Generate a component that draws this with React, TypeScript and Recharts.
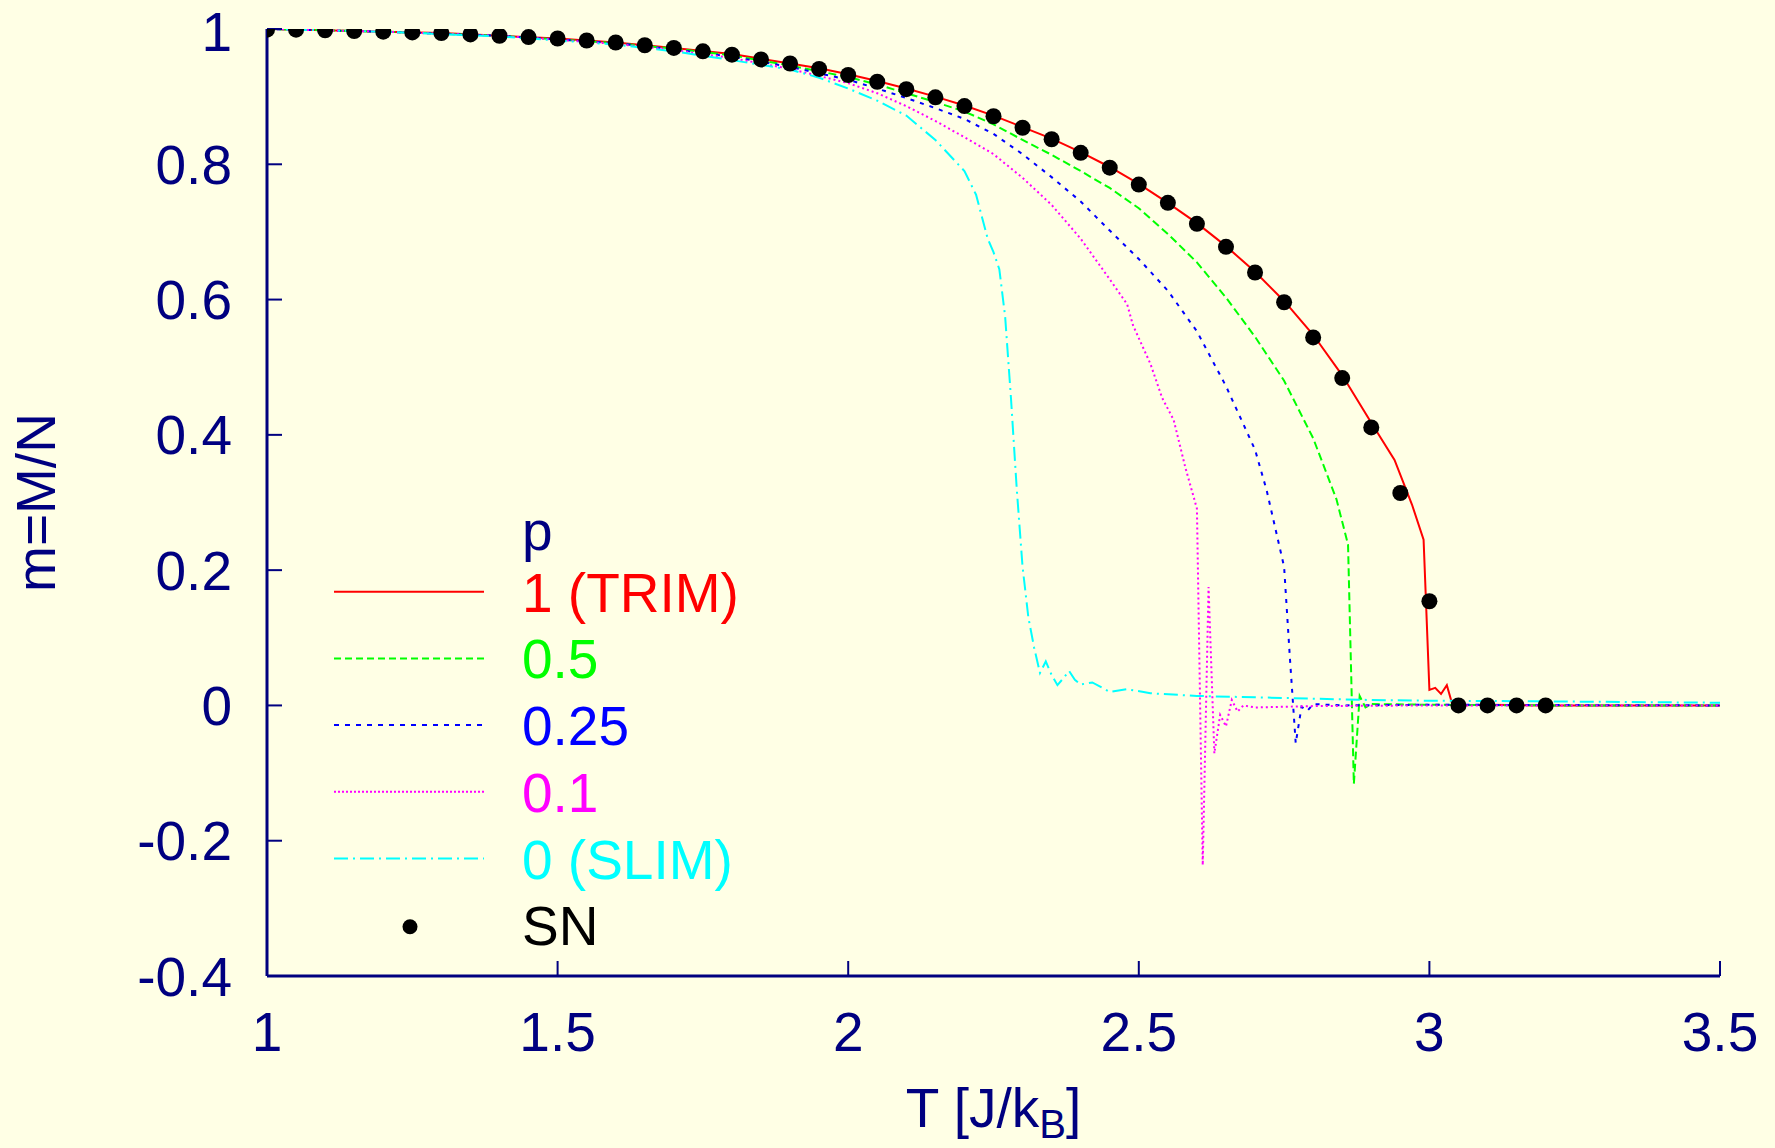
import React from "react";
import { ComposedChart, Legend, Line, Scatter, XAxis, YAxis } from "recharts";

const BG = "#ffffe5";
const NAVY = "#000080";
const FONT = "'Liberation Sans', Arial, Helvetica, sans-serif";

const X_TICKS = [1, 1.5, 2, 2.5, 3, 3.5];
const Y_TICKS = [-0.4, -0.2, 0, 0.2, 0.4, 0.6, 0.8, 1];

// [T, m]
const P_1_TRIM: [number, number][] = [
  [1.0, 1.0], [1.1, 0.998], [1.2, 0.996], [1.3, 0.994], [1.4, 0.99], [1.5, 0.986],
  [1.6, 0.98], [1.7, 0.972], [1.8, 0.963], [1.85, 0.956], [1.9, 0.949], [1.95, 0.942],
  [2.0, 0.933], [2.05, 0.923], [2.1, 0.912], [2.15, 0.9], [2.2, 0.887], [2.25, 0.872],
  [2.3, 0.855], [2.35, 0.838], [2.4, 0.818], [2.45, 0.796], [2.5, 0.771], [2.55, 0.743],
  [2.6, 0.713], [2.65, 0.679], [2.7, 0.641], [2.75, 0.598], [2.8, 0.548], [2.85, 0.488],
  [2.9, 0.418], [2.94, 0.363], [2.97, 0.297], [2.99, 0.245], [3.0, 0.023], [3.01, 0.026],
  [3.02, 0.017], [3.03, 0.03], [3.04, 0.0], [3.1, 0.001], [3.2, 0.0], [3.3, 0.0], [3.5, 0.0],
];

const P_05: [number, number][] = [
  [1.0, 1.0], [1.2, 0.996], [1.4, 0.99], [1.6, 0.979], [1.7, 0.971], [1.8, 0.961],
  [1.9, 0.946], [2.0, 0.929], [2.05, 0.918], [2.1, 0.905], [2.15, 0.892], [2.2, 0.878],
  [2.25, 0.859], [2.3, 0.836], [2.35, 0.814], [2.4, 0.79], [2.45, 0.765], [2.5, 0.735],
  [2.55, 0.697], [2.6, 0.655], [2.65, 0.603], [2.7, 0.545], [2.75, 0.48], [2.8, 0.395],
  [2.84, 0.305], [2.86, 0.238], [2.87, -0.116], [2.88, 0.014], [2.89, -0.003], [2.9, 0.002],
  [3.0, 0.001], [3.2, 0.0], [3.5, 0.0],
];

const P_025: [number, number][] = [
  [1.0, 1.0], [1.2, 0.996], [1.4, 0.99], [1.6, 0.979], [1.7, 0.97], [1.8, 0.959],
  [1.9, 0.944], [2.0, 0.925], [2.05, 0.912], [2.1, 0.898], [2.15, 0.883], [2.2, 0.867],
  [2.25, 0.845], [2.3, 0.815], [2.35, 0.781], [2.4, 0.745], [2.45, 0.702], [2.5, 0.66],
  [2.55, 0.613], [2.6, 0.553], [2.65, 0.472], [2.7, 0.378], [2.72, 0.318], [2.75, 0.205],
  [2.76, 0.07], [2.77, -0.056], [2.78, -0.002], [2.79, -0.008], [2.8, 0.002], [2.85, 0.0],
  [3.0, 0.001], [3.5, 0.0],
];

const P_01: [number, number][] = [
  [1.0, 1.0], [1.2, 0.996], [1.4, 0.99], [1.6, 0.978], [1.7, 0.969], [1.8, 0.957],
  [1.9, 0.941], [2.0, 0.92], [2.05, 0.905], [2.1, 0.886], [2.15, 0.864], [2.2, 0.84],
  [2.25, 0.815], [2.3, 0.78], [2.35, 0.74], [2.4, 0.69], [2.45, 0.63], [2.48, 0.593],
  [2.49, 0.562], [2.52, 0.505], [2.54, 0.455], [2.56, 0.422], [2.58, 0.352], [2.6, 0.291],
  [2.61, -0.236], [2.62, 0.175], [2.63, -0.071], [2.64, -0.014], [2.65, -0.031],
  [2.66, 0.008], [2.67, -0.009], [2.68, 0.0], [2.7, -0.003], [2.8, -0.001], [3.0, 0.0],
  [3.5, 0.0],
];

const P_0_SLIM: [number, number][] = [
  [1.0, 1.0], [1.2, 0.996], [1.4, 0.989], [1.6, 0.977], [1.7, 0.967], [1.8, 0.954],
  [1.9, 0.94], [1.95, 0.928], [2.0, 0.912], [2.05, 0.894], [2.1, 0.872], [2.15, 0.836],
  [2.2, 0.79], [2.22, 0.755], [2.24, 0.69], [2.25, 0.67], [2.26, 0.645], [2.27, 0.575],
  [2.28, 0.455], [2.29, 0.32], [2.3, 0.205], [2.31, 0.13], [2.32, 0.085], [2.33, 0.048],
  [2.34, 0.065], [2.35, 0.045], [2.36, 0.03], [2.37, 0.04], [2.38, 0.051], [2.39, 0.038],
  [2.4, 0.031], [2.42, 0.034], [2.45, 0.02], [2.48, 0.024], [2.52, 0.018], [2.6, 0.014],
  [2.7, 0.012], [2.8, 0.01], [2.9, 0.008], [3.0, 0.007], [3.2, 0.006], [3.5, 0.004],
];

const SN_POINTS: [number, number][] = [
  [1.0, 0.999], [1.05, 0.999], [1.1, 0.998], [1.15, 0.997], [1.2, 0.996], [1.25, 0.995],
  [1.3, 0.994], [1.35, 0.992], [1.4, 0.99], [1.45, 0.988], [1.5, 0.986], [1.55, 0.983],
  [1.6, 0.98], [1.65, 0.976], [1.7, 0.972], [1.75, 0.967], [1.8, 0.962], [1.85, 0.955],
  [1.9, 0.949], [1.95, 0.941], [2.0, 0.932], [2.05, 0.922], [2.1, 0.911], [2.15, 0.899],
  [2.2, 0.886], [2.25, 0.871], [2.3, 0.854], [2.35, 0.837], [2.4, 0.817], [2.45, 0.795],
  [2.5, 0.77], [2.55, 0.743], [2.6, 0.712], [2.65, 0.678], [2.7, 0.64], [2.75, 0.596],
  [2.8, 0.544], [2.85, 0.484], [2.9, 0.411], [2.95, 0.314], [3.0, 0.154], [3.05, 0.0],
  [3.1, 0.0], [3.15, 0.0], [3.2, 0.0],
];

const toRows = (pts: [number, number][]) => pts.map(([T, m]) => ({ T, m }));

const SERIES = [
  { key: "p1", label: "1 (TRIM)", color: "#ff0000", dash: undefined, legendDash: undefined, pts: P_1_TRIM },
  { key: "p05", label: "0.5", color: "#00ff00", dash: "8 4", legendDash: "7 4", pts: P_05 },
  { key: "p025", label: "0.25", color: "#0000ff", dash: "4 6", legendDash: "5 6", pts: P_025 },
  { key: "p01", label: "0.1", color: "#ff00ff", dash: "2 3", legendDash: "2 2", pts: P_01 },
  { key: "p0", label: "0 (SLIM)", color: "#00ffff", dash: "14 5 2 5", legendDash: "14 5 2 5", pts: P_0_SLIM },
];

const tickStyle = { fontSize: 55, fill: NAVY, fontFamily: FONT };

function renderLegend() {
  const rowGap = 66.7;
  return (
    <svg width={440} height={470} style={{ overflow: "visible" }}>
      <text x={192} y={50} fontSize={55} fontFamily={FONT} fill={NAVY}>p</text>
      {SERIES.map((s, i) => {
        const base = 111.7 + i * rowGap;
        return (
          <g key={s.key}>
            <line x1={4} x2={154} y1={base - 20} y2={base - 20} stroke={s.color} strokeWidth={2} strokeDasharray={s.legendDash} />
            <text x={192} y={base} fontSize={55} fontFamily={FONT} fill={s.color}>{s.label}</text>
          </g>
        );
      })}
      <circle cx={80} cy={111.7 + 5 * rowGap - 18.5} r={7.5} fill="#000" />
      <text x={192} y={111.7 + 5 * rowGap} fontSize={55} fontFamily={FONT} fill="#000">SN</text>
    </svg>
  );
}

function renderXLabel(props: any) {
  const vb = props.viewBox || { x: 267, y: 976, width: 1453, height: 172 };
  return (
    <text x={vb.x + vb.width / 2} y={vb.y + 151} textAnchor="middle" fontSize={55} fontFamily={FONT} fill={NAVY}>
      T [J/k<tspan fontSize={40} dy={11}>B</tspan><tspan dy={-11}>]</tspan>
    </text>
  );
}

function renderYLabel(props: any) {
  const vb = props.viewBox || { x: 0, y: 29, width: 267, height: 947 };
  const cx = vb.x + 36;
  const cy = vb.y + vb.height / 2;
  return (
    <text x={cx} y={cy} transform={`rotate(-90 ${cx} ${cy})`} textAnchor="middle" dominantBaseline="central" fontSize={55} fontFamily={FONT} fill={NAVY}>
      m=M/N
    </text>
  );
}

export default function App() {
  return (
    <div style={{ position: "absolute", left: 0, top: 0, width: 1775, height: 1148, background: BG }}>
      <ComposedChart width={1775} height={1148} margin={{ top: 29, right: 55, left: 0, bottom: 0 }}>
        <XAxis
          xAxisId="main"
          dataKey="T"
          type="number"
          domain={[1, 3.5]}
          ticks={X_TICKS}
          allowDataOverflow
          height={172}
          tick={tickStyle}
          tickSize={-15}
          tickMargin={51}
          tickLine={{ stroke: NAVY, strokeWidth: 2 }}
          axisLine={{ stroke: NAVY, strokeWidth: 3 }}
          label={renderXLabel}
        />
        <XAxis
          xAxisId="top"
          orientation="top"
          dataKey="T"
          type="number"
          domain={[1, 3.5]}
          ticks={X_TICKS}
          allowDataOverflow
          height={0}
          tick={false}
          tickSize={-15}
          tickLine={{ stroke: NAVY, strokeWidth: 2 }}
          axisLine={{ stroke: NAVY, strokeWidth: 3 }}
        />
        <YAxis
          yAxisId="main"
          dataKey="m"
          type="number"
          domain={[-0.4, 1]}
          ticks={Y_TICKS}
          allowDataOverflow
          width={267}
          tick={tickStyle}
          tickSize={-15}
          tickMargin={50}
          tickLine={{ stroke: NAVY, strokeWidth: 2 }}
          axisLine={{ stroke: NAVY, strokeWidth: 3 }}
          label={renderYLabel}
        />
        <YAxis
          yAxisId="right"
          orientation="right"
          type="number"
          domain={[-0.4, 1]}
          ticks={Y_TICKS}
          allowDataOverflow
          width={0}
          tick={false}
          tickSize={-15}
          tickLine={{ stroke: NAVY, strokeWidth: 2 }}
          axisLine={{ stroke: NAVY, strokeWidth: 3 }}
        />
        <Legend
          content={renderLegend}
          layout="vertical"
          align="center"
          verticalAlign="middle"
          wrapperStyle={{ left: 330, top: 500, width: 440, height: 470 }}
        />
        {SERIES.map((s) => (
          <Line
            key={s.key}
            xAxisId="main"
            yAxisId="main"
            data={toRows(s.pts)}
            dataKey="m"
            name={s.label}
            type="linear"
            stroke={s.color}
            strokeWidth={2}
            strokeDasharray={s.dash}
            dot={false}
            activeDot={false}
            isAnimationActive={false}
          />
        ))}
        <Scatter
          xAxisId="main"
          yAxisId="main"
          data={toRows(SN_POINTS)}
          dataKey="m"
          name="SN"
          fill="#000"
          shape={(p: any) => <circle cx={p.cx} cy={p.cy} r={8} fill="#000" />}
          isAnimationActive={false}
        />
      </ComposedChart>
    </div>
  );
}
